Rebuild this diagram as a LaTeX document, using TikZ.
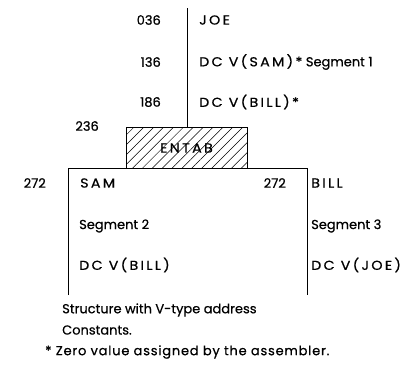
\documentclass[tikz,border=0pt]{standalone}
\usepackage{fontspec}
\usepackage{graphicx}
\setmainfont{Poppins}[FakeBold=0.6]
\newfontfamily\capsp{Poppins}[FakeBold=0.6,LetterSpace=16]
\newfontfamily\footsp{Poppins}[FakeBold=0.6,LetterSpace=6]
\newcommand{\widecaps}[1]{\scalebox{1.1}[1]{\capsp #1}}
\usetikzlibrary{patterns.meta}
\begin{document}
\begin{tikzpicture}[x=1pt,y=-1pt,
  txt/.style={inner sep=0pt,font=\fontsize{13}{15}\selectfont},
  lbl/.style={txt,anchor=west},
  num/.style={txt,anchor=east},
  line/.style={line width=1pt}]
\useasboundingbox (0,0) rectangle (420,370);
% main line
\coordinate (top) at (187,8);
\node[txt,draw,line width=1pt,minimum width=121pt,minimum height=41pt,
  pattern={Lines[angle=45,distance=7pt,line width=0.5pt]}] (entab) at (186.5,148) {\widecaps{ENTAB}};
\draw[line] (top) -- (top |- entab.north);
% segment box
\coordinate (bl) at (68,295);
\coordinate (br) at (307,295);
\coordinate (tl) at (68,168);
\coordinate (tr) at (307,168);
\draw[line] (bl) -- (tl) -- (tr) -- (br);
% numbers and labels, segment 1
\node[num] (n036) at (161,20) {036};
\node[lbl] (joe) at (199,20) {\widecaps{JOE}};
\node[num] (n136) at (161,62) {136};
\node[lbl] (dcsam) at (199,62) {\widecaps{DC V(SAM)*} Segment 1};
\node[num] (n186) at (161,102) {186};
\node[lbl] (dcbill) at (199,102) {\widecaps{DC V(BILL)*}};
\node[num] (n236) at (99,126) {236};
% segment 2
\node[num] (n272a) at (46,183) {272};
\node[lbl] (sam) at (80,183) {\widecaps{SAM}};
\node[lbl] (seg2) at (79,226) {Segment 2};
\node[lbl] (dcb2) at (79,265) {\widecaps{DC V(BILL)}};
% segment 3
\node[num] (n272b) at (286,183) {272};
\node[lbl] (bill) at (311,183) {\widecaps{BILL}};
\node[lbl] (seg3) at (311,226) {Segment 3};
\node[lbl] (dcj) at (311,265) {\widecaps{DC V(JOE)}};
% caption
\node[lbl] (cap1) at (62,310) {Structure with V-type address};
\node[lbl] (cap2) at (62,330) {Constants.};
\node[lbl] (cap3) at (45,352) {\footsp * Zero value assigned by the assembler.};
\end{tikzpicture}
\end{document}
